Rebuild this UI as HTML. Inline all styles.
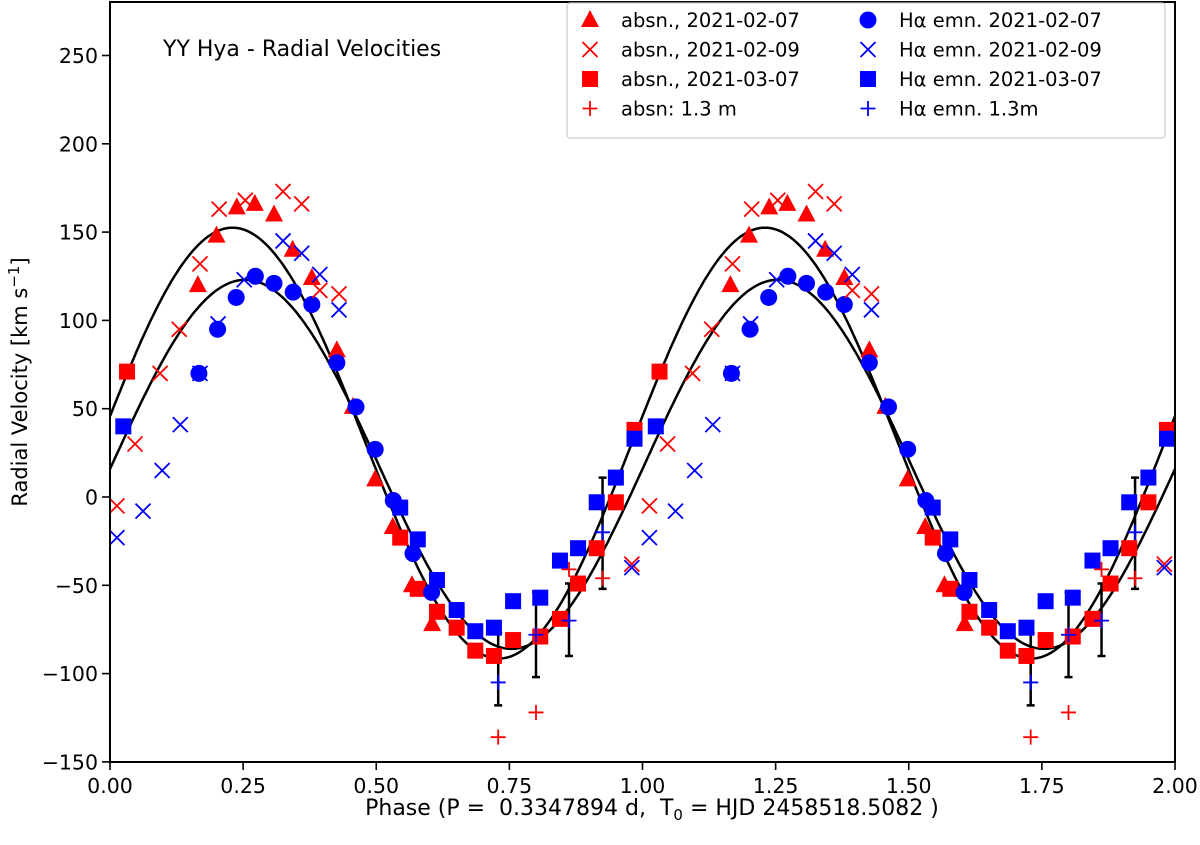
<!DOCTYPE html>
<html><head><meta charset="utf-8"><style>
body{margin:0;background:#fff}
svg{display:block;font-family:"DejaVu Sans","Liberation Sans",sans-serif}
.pre{white-space:pre}
</style></head><body>
<svg id="chart" width="1200" height="845" viewBox="0 0 1200 845" xmlns="http://www.w3.org/2000/svg">
<defs><clipPath id="clip"><rect x="110" y="2" width="1065" height="760"/></clipPath></defs>
<g id="marks" clip-path="url(#clip)"></g>
<rect x="110" y="2" width="1065" height="760" fill="none" stroke="#000" stroke-width="2"/>
<g id="axes"></g>
<text x="163" y="56" font-size="22">YY Hya - Radial Velocities</text>
<text class="pre" x="652" y="815" font-size="22" text-anchor="middle">Phase (P =  0.3347894 d,  T<tspan dy="5" font-size="15">0</tspan><tspan dy="-5"> = HJD 2458518.5082 )</tspan></text>
<text transform="translate(27,382) rotate(-90)" font-size="21" text-anchor="middle">Radial Velocity [km s<tspan dy="-8" font-size="15">−1</tspan><tspan dy="8">]</tspan></text>
<g id="legend"></g>
</svg>
<script>
const xTicks=[0,0.25,0.5,0.75,1,1.25,1.5,1.75,2];
const xTickLabels=["0.00","0.25","0.50","0.75","1.00","1.25","1.50","1.75","2.00"];
const yTicks=[-150,-100,-50,0,50,100,150,200,250];
const triPhase=[0.165,0.20,0.238,0.272,0.308,0.343,0.379,0.426,0.456,0.498,0.531,0.567,0.605];
const triV=[120,148,164,166,160,140,124,83,51,10,-17,-50,-72];
const rxPhase=[0.013,0.047,0.094,0.13,0.169,0.205,0.254,0.325,0.36,0.394,0.43,0.98];
const rxV=[-5,30,70,95,132,163,168,173,166,117,115,-38];
const rsqPhase=[0.032,0.545,0.578,0.614,0.651,0.686,0.721,0.757,0.808,0.845,0.879,0.914,0.95,0.985];
const rsqV=[71,-23,-52,-65,-74,-87,-90,-81,-79,-69,-49,-29,-3,38];
const rplPhase=[0.729,0.80,0.862,0.925];
const rplV=[-136,-122,-41,-46];
const bcPhase=[0.167,0.202,0.237,0.273,0.308,0.344,0.379,0.426,0.462,0.498,0.532,0.569,0.604];
const bcV=[70,95,113,125,121,116,109,76,51,27,-2,-32,-54];
const bxPhase=[0.013,0.062,0.098,0.132,0.169,0.203,0.252,0.325,0.36,0.394,0.43,0.98];
const bxV=[-23,-8,15,41,70,98,123,145,138,126,106,-40];
const bsqPhase=[0.025,0.545,0.578,0.614,0.651,0.686,0.721,0.757,0.808,0.845,0.879,0.914,0.95,0.985];
const bsqV=[40,-6,-24,-47,-64,-76,-74,-59,-57,-36,-29,-3,11,33];
const bplPhase=[0.729,0.80,0.862,0.925];
const bplV=[-105,-78,-70,-20];
const errLo=[-118,-102,-90,-52];
const errHi=[-77,-54,-49,11];
const fitGamma=[30.5,18.5];
const fitK=[122,104.5];
const fitPhi0=[-0.02,0.004];

const X=p=>110+p*532.5, Y=v=>497-v*1.766;
const NS="http://www.w3.org/2000/svg";
const marks=document.getElementById('marks'), axes=document.getElementById('axes'), leg=document.getElementById('legend');
function mk(tag,attrs,parent){const e=document.createElementNS(NS,tag);for(const k in attrs)e.setAttribute(k,attrs[k]);parent.appendChild(e);return e;}
function marker(type,cx,cy,color,parent){
  let e;
  if(type==='tri'){e=mk('polygon',{points:`${cx},${cy-10} ${cx-9},${cy+7} ${cx+9},${cy+7}`,fill:color},parent);}
  else if(type==='sq'){e=mk('rect',{x:cx-8,y:cy-8,width:16,height:16,fill:color},parent);}
  else if(type==='circ'){e=mk('circle',{cx:cx,cy:cy,r:8.5,fill:color},parent);}
  else if(type==='x'){e=mk('path',{d:`M${cx-7.5},${cy-7.5}L${cx+7.5},${cy+7.5}M${cx-7.5},${cy+7.5}L${cx+7.5},${cy-7.5}`,stroke:color,'stroke-width':1.8,fill:'none'},parent);}
  else {e=mk('path',{d:`M${cx-7.5},${cy}L${cx+7.5},${cy}M${cx},${cy-7.5}L${cx},${cy+7.5}`,stroke:color,'stroke-width':1.8,fill:'none'},parent);}
  return e;
}
for(let f=0;f<2;f++){
  let d='';
  for(let i=0;i<=400;i++){const p=i/200;const v=fitGamma[f]+fitK[f]*Math.sin(2*Math.PI*(p-fitPhi0[f]));d+=(i?'L':'M')+X(p).toFixed(1)+','+Y(v).toFixed(1);}
  const e=mk('path',{d:d,fill:'none',stroke:'#000','stroke-width':2.5},marks);
  
  
}
for(let c=0;c<2;c++)for(let i=0;i<bplPhase.length;i++){
  const x=X(bplPhase[i]+c);
  const e=mk('path',{d:`M${x},${Y(errLo[i])}L${x},${Y(errHi[i])}M${x-4},${Y(errLo[i])}L${x+4},${Y(errLo[i])}M${x-4},${Y(errHi[i])}L${x+4},${Y(errHi[i])}`,stroke:'#000','stroke-width':2.5,fill:'none'},marks);
  
  
}
const series=[[rsqPhase,rsqV,'sq','red'],[bsqPhase,bsqV,'sq','blue'],[triPhase,triV,'tri','red'],[bcPhase,bcV,'circ','blue'],[rxPhase,rxV,'x','red'],[bxPhase,bxV,'x','blue'],[rplPhase,rplV,'plus','red'],[bplPhase,bplV,'plus','blue']];
series.forEach(s=>{
  for(let c=0;c<2;c++)for(let i=0;i<s[0].length;i++){
    const e=marker(s[2],X(s[0][i]+c),Y(s[1][i]),s[3],marks);
    
    
  }
});
xTicks.forEach((t,i)=>{
  const x=X(t);
  const l=mk('line',{x1:x,x2:x,y1:762,y2:770,stroke:'#000','stroke-width':1.6},axes);
  
  
  const tx=mk('text',{x:x,y:793,'font-size':20.5,'text-anchor':'middle'},axes);
  tx.textContent=xTickLabels[i];
  
  
});
yTicks.forEach(t=>{
  const y=Y(t);
  const l=mk('line',{x1:102,x2:110,y1:y,y2:y,stroke:'#000','stroke-width':1.6},axes);
  
  
  const tx=mk('text',{x:98,y:y+7.5,'font-size':20.5,'text-anchor':'end'},axes);
  tx.textContent=String(t).replace('-','−');
  
  
});
const lb=mk('rect',{x:567,y:3,width:598,height:135,rx:3,fill:'#fff',stroke:'#ccc','stroke-width':1.2},leg);


const legItems=[['tri','red','absn., 2021-02-07'],['x','red','absn., 2021-02-09'],['sq','red','absn., 2021-03-07'],['plus','red','absn: 1.3 m'],['circ','blue','Hα emn. 2021-02-07'],['x','blue','Hα emn. 2021-02-09'],['sq','blue','Hα emn. 2021-03-07'],['plus','blue','Hα emn. 1.3m']];
legItems.forEach((it,i)=>{
  const col=Math.floor(i/4),row=i%4;
  const mx=col?868:590, tx=col?899:621, y=20+row*29.5;
  const g=mk('g',{},leg);
  
  
  marker(it[0],mx,y,it[1],g);
  const t=mk('text',{x:tx,y:y+7,'font-size':19.5},g);
  t.textContent=it[2];
});
</script>
</body></html>
